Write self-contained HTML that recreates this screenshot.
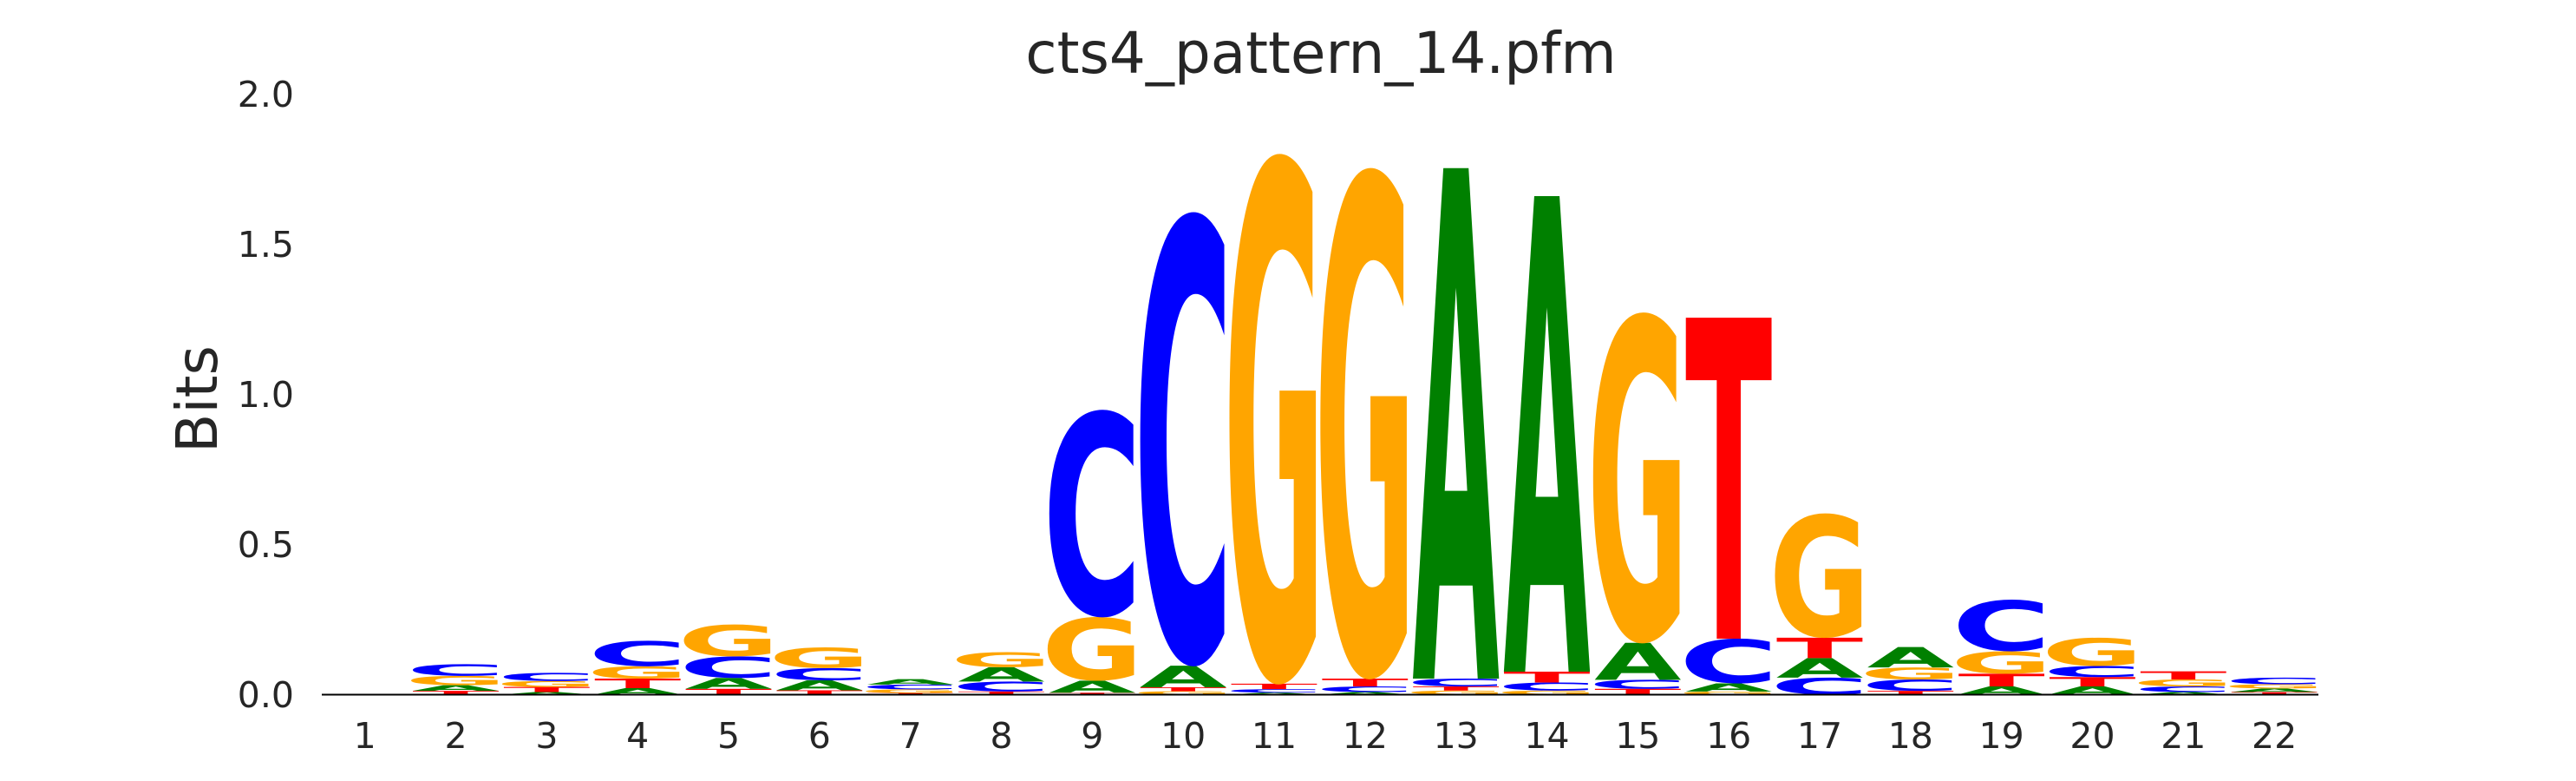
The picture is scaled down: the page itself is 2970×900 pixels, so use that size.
<!DOCTYPE html>
<html><head><meta charset="utf-8"><style>
html,body{margin:0;padding:0;background:#fff;width:2970px;height:900px;overflow:hidden;}
svg{display:block;}
text{font-family:"DejaVu Sans","Liberation Sans",sans-serif;}
</style></head><body>
<svg id="chart" width="2970" height="900" viewBox="0 0 2970 900" xmlns="http://www.w3.org/2000/svg" overflow="hidden">
<text x="1523" y="84" font-size="66" fill="#262626" text-anchor="middle">cts4_pattern_14.pfm</text>
<text transform="translate(250,460) rotate(-90)" font-size="66" fill="#262626" text-anchor="middle">Bits</text>
<g id="yticks"></g>
<g id="xticks"></g>
<svg x="0" y="0" width="2970" height="801" viewBox="0 0 2970 801" overflow="hidden">
<g id="letters"></g>
</svg>
<line x1="371" y1="800.5" x2="2673" y2="800.5" stroke="#000" stroke-width="2"/>
</svg>
<script>
const positions = ["1","2","3","4","5","6","7","8","9","10","11","12","13","14","15","16","17","18","19","20","21","22"];
const valuesA = [0,0.019,0.008,0.021,0.036,0.033,0.018,0.048,0.040,0.072,0.006,0.008,1.700,1.584,0.123,0.027,0.065,0.068,0.027,0.027,0.008,0.012];
const valuesC = [0,0.039,0.027,0.085,0.072,0.041,0.016,0.033,0.690,1.510,0.012,0.019,0.026,0.027,0.030,0.149,0.056,0.038,0.172,0.037,0.019,0.022];
const valuesG = [0,0.031,0.020,0.041,0.106,0.069,0.012,0.050,0.212,0.011,1.764,1.700,0.013,0.013,1.100,0.010,0.414,0.040,0.075,0.094,0.023,0.014];
const valuesT = [0,0.012,0.017,0.032,0.019,0.014,0.005,0.010,0.006,0.013,0.018,0.026,0.014,0.036,0.019,1.069,0.068,0.012,0.042,0.031,0.027,0.008];
const yTickValues = [0,0.5,1.0,1.5,2.0];
const yTickLabels = ["0.0","0.5","1.0","1.5","2.0"];

const NS = "http://www.w3.org/2000/svg";
const X0 = 420.7, DX = 104.83, Y0 = 800.3, PXBIT = 346;
function xPos(i){ return X0 + i*DX; }
function yPos(v){ return Y0 - v*PXBIT; }
const colors = {A:"#008000", C:"#0000ff", G:"#ffa500", T:"#ff0000"};
const inkW = {A:77, C:64, G:70, T:68};
const inkH = {A:72.9, C:75.5, G:75.5, T:72.9};
const inkB = {A:0, C:1.3, G:1.3, T:0};
const LW = 100;

const yt = document.getElementById('yticks');
yTickValues.forEach((v,k)=>{
  const t = document.createElementNS(NS,'text');
  
  
  t.setAttribute('x', 339);
  t.setAttribute('y', yPos(v)+14.5);
  t.setAttribute('font-size', 41);
  t.setAttribute('fill', '#262626');
  t.setAttribute('text-anchor', 'end');
  t.textContent = yTickLabels[k];
  yt.appendChild(t);
});
const xt = document.getElementById('xticks');
positions.forEach((p,i)=>{
  const t = document.createElementNS(NS,'text');
  
  
  t.setAttribute('x', xPos(i));
  t.setAttribute('y', 862);
  t.setAttribute('font-size', 41);
  t.setAttribute('fill', '#262626');
  t.setAttribute('text-anchor', 'middle');
  t.textContent = p;
  xt.appendChild(t);
});
const lg = document.getElementById('letters');
positions.forEach((p,i)=>{
  const col = [["A",valuesA[i]],["C",valuesC[i]],["G",valuesG[i]],["T",valuesT[i]]].sort((a,b)=>a[1]-b[1]);
  let base = 0;
  col.forEach(([b,v])=>{
    if(v<=0) return;
    const yb = yPos(base), h = v*PXBIT;
    const sx = LW/inkW[b], sy = h/inkH[b];
    const t = document.createElementNS(NS,'text');
    
    
    t.setAttribute('transform', `translate(${xPos(i)},${yb - inkB[b]*sy}) scale(${sx},${sy})`);
    t.setAttribute('font-size', 100);
    t.setAttribute('font-weight', 'bold');
    t.setAttribute('fill', colors[b]);
    t.setAttribute('text-anchor', 'middle');
    t.textContent = b;
    lg.appendChild(t);
    base += v;
  });
});
</script>
</body></html>
